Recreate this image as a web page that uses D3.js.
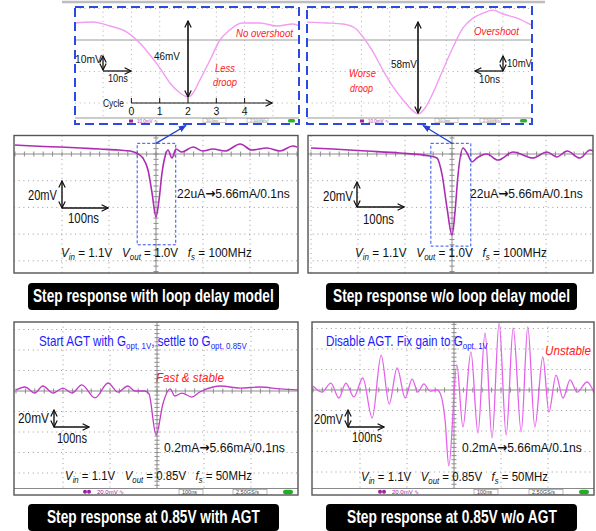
<!DOCTYPE html>
<html><head><meta charset="utf-8">
<script src="https://cdn.jsdelivr.net/npm/d3@7"></script>
<style>
body{margin:0;background:#fff;}
svg{display:block;font-family:"Liberation Sans",Arial,sans-serif;}
text{white-space:pre;}
</style></head><body>
<svg id="c" width="596" height="531"></svg>
<script>
// ---------------- DATA (time in ns, voltage deviation in mV) ----------------
const insetWithDelay = [[-40,-1.2],[-33.6,-0.6],[-27.6,-3],[-21.6,-6.7],[-17,-13.3],[-13.4,-20.6],[-9.9,-28.5],[-6.4,-37.5],[-2.8,-43.6],[0,-46],[1.8,-43.6],[4.2,-35.7],[7.8,-23.6],[11.3,-11.5],[14.8,-5.4],[19.1,-1.2],[25.4,-1.2],[31.4,-3],[37.1,-1.8],[40,-3.6]];
const insetWithoutDelay = [[-40,0],[-32.2,-0.6],[-26.5,-1.3],[-22.3,-3.8],[-19.4,-9.6],[-16.3,-17.8],[-12.4,-30.6],[-8.8,-41.4],[-5.3,-49.7],[-2.1,-56.1],[0,-58.6],[2.5,-54.8],[5.3,-45.2],[8.8,-30.6],[12.4,-15.9],[15.9,-3.8],[19.4,2.5],[23,5.7],[26.5,7.6],[30,5.1],[35,2.5],[40,-1.9]];
const stepWithDelay = [[-300,6.7],[-250,5.8],[-204,5.2],[-160,4.5],[-119,3.7],[-80,3],[-55,2.2],[-38,0],[-28,-3],[-17,-12],[-8.5,-29],[0,-47.2],[6.4,-34.5],[12.8,-14.2],[19,-2.2],[25.5,3],[34,-3],[42.5,3.7],[55,1.5],[79,5.2],[100,2.2],[121,3.7],[147,2.2],[179,7.5],[204,3],[236,4.5],[264,2.2],[291,6],[300,5.2]];
const stepWithoutDelay = [[-300,4.5],[-253,3.7],[-181,2.2],[-111,0.7],[-47,-1.5],[-32,-3],[-21,-15.7],[-10.6,-40.4],[0,-60.7],[6.4,-43.4],[12.8,-15.7],[23.4,4.5],[32,0.7],[42.5,-6],[53,-3],[74,0],[98,-4.5],[130,1.5],[172,-3],[202,1.5],[223,-2.2],[245,2.2],[272,-3],[294,3],[300,2.2]];
const stepAGT = [[-300,1],[-281,3.9],[-260,-2],[-243,4.9],[-221,-2],[-200,2.9],[-181,-2],[-160,5.9],[-132,-6.8],[-104,7.8],[-83,-1],[-62,4.9],[-47,0],[-26,0],[-17,-2.9],[-2,-42.9],[13,-11.7],[28,2],[38,-4.9],[53,-2],[74,-5.9],[91,-1],[119,3.9],[134,4.9],[177,2.9],[219,3.9],[262,2],[300,1]];
const stepNoAGT = [[-300,3.9],[-281,-2],[-262,6.8],[-245,-7.8],[-230,6.8],[-213,-6.8],[-194,11.7],[-174,-27.3],[-155,34.1],[-138,-13.7],[-121,21.5],[-104,-7.8],[-89,10.7],[-77,-2],[-64,5.9],[-51,-1],[-36,0],[-28,-4.9],[-19,-29.3],[-11,-74.1],[6,24.4],[19,-36.1],[36,37.1],[51,-42],[66,55.6],[81,-46.8],[96,65.4],[111,-43.9],[126,60.5],[143,-41],[157,61.5],[172,-36.1],[189,32.2],[202,-21.5],[217,14.6],[232,-7.8],[247,9.8],[262,-2],[283,7.8],[300,-4.9]];
const cycleTicks = [0,1,2,3,4];
const droops = [46,58];
const panelTitles = ["Step response with loop delay model","Step response w/o loop delay model","Step response at 0.85V with AGT","Step response at 0.85V w/o AGT"];
const loadSteps = ["22uA\u21925.66mA/0.1ns","22uA\u21925.66mA/0.1ns","0.2mA\u21925.66mA/0.1ns","0.2mA\u21925.66mA/0.1ns"];
const vinLabels = ["1.1V","1.1V","1.1V","1.1V"];
const voutLabels = ["1.0V","1.0V","0.85V","0.85V"];
const fsLabels = ["100MHz","100MHz","50MHz","50MHz"];
const statusLabels = ["20.0mV \u223f","100ns","2.50GS/s"];

// ---------------- SETUP ----------------
const svg = d3.select('#c');
const defs = svg.append('defs');
function marker(id, color, filled){
  defs.append('marker').attr('id',id).attr('viewBox','0 0 10 10').attr('refX',9).attr('refY',5)
    .attr('markerWidth',8).attr('markerHeight',8).attr('markerUnits','userSpaceOnUse')
    .attr('orient','auto-start-reverse')
    .append('path').attr('d', filled?'M0,1L10,5L0,9z':'M1,1L9,5L1,9')
    .attr('fill',filled?color:'none').attr('stroke',filled?'none':color).attr('stroke-width',1.5);
}
marker('ak','#111',false);
marker('ab','#2040d8',true);

// text with italic / subscript parts, horizontally scaled to a target width
function rich(g, parts, x, y, fs, color, targetW, anchor){
  const t = g.append('text').attr('x',0).attr('y',0).attr('font-size',fs).attr('fill',color)
    .attr('text-anchor',anchor||'start');
  let shifted=false;
  parts.forEach(p=>{
    const [s, st] = typeof p==='string'?[p,'n']:p;
    const sp = t.append('tspan').text(s);
    const sub = st==='s'||st==='S';
    if (st==='i'||st==='s') sp.attr('font-style','italic');
    if (st==='a') sp.attr('font-family','DejaVu Sans').attr('font-weight','bold');
    if (sub){ sp.attr('font-size', fs*0.68); if(!shifted){ sp.attr('dy', fs*0.22); shifted=true; } }
    else if (shifted){ sp.attr('dy', -fs*0.22); shifted=false; }
  });
  let k = 1;
  if (targetW){ k = targetW/t.node().getComputedTextLength(); k = Math.max(0.6, Math.min(1.35,k)); }
  t.attr('transform',`translate(${x},${y}) scale(${k},1)`);
  return t;
}
function arrow(g, x1,y1,x2,y2, both, color, w){
  const l = g.append('line').attr('x1',x1).attr('y1',y1).attr('x2',x2).attr('y2',y2)
    .attr('stroke',color||'#111').attr('stroke-width',w||1.4).attr('marker-end','url(#ak)');
  if (both) l.attr('marker-start','url(#ak)');
  return l;
}
const line = (xs,ys)=>d3.line().x(d=>xs(d[0])).y(d=>ys(d[1])).curve(d3.curveMonotoneX);

// ---------------- OSCILLOSCOPE SCREENS ----------------
const screens = [
  {x0:14,x1:298,y0:135.5,y1:273,cx:156,cy:154,dx:47,dy:26.7,data:stepWithDelay,color:'#ac2cb4',status:false},
  {x0:308,x1:593,y0:135.5,y1:273,cx:452,cy:154,dx:47,dy:26.7,data:stepWithoutDelay,color:'#ac2cb4',status:false},
  {x0:14,x1:298,y0:322,y1:495,cx:157,cy:391,dx:47,dy:20.5,data:stepAGT,color:'#c23cc8',status:true},
  {x0:312,x1:594,y0:322,y1:495,cx:454,cy:390,dx:47,dy:20.5,data:stepNoAGT,color:'#e462ea',status:true}
];
screens.forEach((s,i)=>{
  const g = svg.append('g');
  s.x = d3.scaleLinear().domain([0,100]).range([s.cx,s.cx+s.dx]);
  s.y = d3.scaleLinear().domain([0,20]).range([s.cy,s.cy-s.dy]);
  const gb = s.status ? s.y1-6.5 : s.y1;
  g.append('rect').attr('x',s.x0).attr('y',s.y0).attr('width',s.x1-s.x0).attr('height',s.y1-s.y0).attr('fill','#fff');
  d3.range(-6,7).forEach(k=>{
    const xv = s.x(k*100);
    if (xv>s.x0+2 && xv<s.x1-2 && k!==0)
      g.append('line').attr('x1',xv).attr('x2',xv).attr('y1',s.y0).attr('y2',gb)
        .attr('stroke','#9a9a9a').attr('stroke-width',1).attr('stroke-dasharray','1,3.7');
    const yv = s.y(k*20);
    if (yv>s.y0+2 && yv<gb-2 && k!==0)
      g.append('line').attr('x1',s.x0).attr('x2',s.x1).attr('y1',yv).attr('y2',yv)
        .attr('stroke','#9a9a9a').attr('stroke-width',1).attr('stroke-dasharray','1,3.7');
  });
  g.append('line').attr('x1',s.x0).attr('x2',s.x1).attr('y1',s.cy).attr('y2',s.cy).attr('stroke','#8c8c8c').attr('stroke-width',1);
  g.append('line').attr('x1',s.cx).attr('x2',s.cx).attr('y1',s.y0).attr('y2',gb).attr('stroke','#8c8c8c').attr('stroke-width',1);
  d3.range(-30,31).forEach(k=>{
    const xv = s.x(k*20);
    if (xv>s.x0 && xv<s.x1) g.append('line').attr('x1',xv).attr('x2',xv).attr('y1',s.cy-2.5).attr('y2',s.cy+2.5).attr('stroke','#8c8c8c');
    const yv = s.y(k*4);
    if (yv>s.y0 && yv<gb) g.append('line').attr('x1',s.cx-2.5).attr('x2',s.cx+2.5).attr('y1',yv).attr('y2',yv).attr('stroke','#8c8c8c');
  });
  if (s.status){
    g.append('line').attr('x1',s.x0).attr('x2',s.x1).attr('y1',gb).attr('y2',gb).attr('stroke','#888').attr('stroke-width',1);
    const sy = gb+3.3;
    const ox = s.x0 + (i===2?71:68);
    g.append('circle').attr('cx',ox).attr('cy',sy).attr('r',2).attr('fill','#a020a0');
    g.append('circle').attr('cx',ox+4).attr('cy',sy).attr('r',2).attr('fill','#a020a0');
    g.append('text').attr('x',ox+12).attr('y',sy+2).attr('font-size',6).attr('fill','#a020a0').text(statusLabels[0]);
    const b1 = s.x0 + (i===2?165:162), b2 = s.x0 + (i===2?219:217);
    g.append('rect').attr('x',b1).attr('y',gb+0.8).attr('width',24).attr('height',5).attr('fill','none').attr('stroke','#888').attr('stroke-width',0.6);
    g.append('text').attr('x',b1+3).attr('y',sy+2).attr('font-size',5.5).attr('fill','#444').text(statusLabels[1]);
    g.append('rect').attr('x',b2).attr('y',gb+0.8).attr('width',34).attr('height',5).attr('fill','none').attr('stroke','#888').attr('stroke-width',0.6);
    g.append('text').attr('x',b2+3).attr('y',sy+2).attr('font-size',5.5).attr('fill','#444').text(statusLabels[2]);
    g.append('rect').attr('x',s.x1-15).attr('y',gb+1.3).attr('width',10).attr('height',4.5).attr('rx',2.2).attr('fill','#22b022');
  }
  const cid = 'clip'+i;
  defs.append('clipPath').attr('id',cid).append('rect').attr('x',s.x0).attr('y',s.y0).attr('width',s.x1-s.x0).attr('height',gb-s.y0);
  g.append('path').attr('d',line(s.x,s.y)(s.data)).attr('fill','none').attr('stroke',s.color)
    .attr('stroke-width',i<2?1.6:1.3).attr('clip-path',`url(#${cid})`);
  g.append('rect').attr('x',s.x0).attr('y',s.y0).attr('width',s.x1-s.x0).attr('height',s.y1-s.y0)
    .attr('fill','none').attr('stroke','#555').attr('stroke-width',1.4);
});

// ---------------- ZOOM WINDOWS & CONNECTORS ----------------
const zoomWins = [{t:[-40,42],v:[8,-68],to:[186,125.5]},{t:[-45,40],v:[8,-69],to:[423,125.5]}];
zoomWins.forEach((z,i)=>{
  const s = screens[i];
  svg.append('rect').attr('x',s.x(z.t[0])).attr('y',s.y(z.v[0])).attr('width',s.x(z.t[1])-s.x(z.t[0]))
    .attr('height',s.y(z.v[1])-s.y(z.v[0])).attr('fill','none').attr('stroke','#3050f0').attr('stroke-width',1).attr('stroke-dasharray','3,2');
  svg.append('line').attr('x1',s.x(0)).attr('y1',s.y(z.v[0])).attr('x2',z.to[0]).attr('y2',z.to[1])
    .attr('stroke','#2040d8').attr('stroke-width',1.3).attr('marker-end','url(#ab)');
});

// ---------------- INSETS ----------------
svg.append('line').attr('x1',62).attr('x2',545).attr('y1',2).attr('y2',2).attr('stroke','#bdbdbd').attr('stroke-width',2.5);
const insets = [
  {x0:75,x1:299,y0:7,y1:124,cx:188,cy:21,data:insetWithDelay,droop:droops[0]},
  {x0:307,x1:532,y0:7,y1:124,cx:418,cy:22,data:insetWithoutDelay,droop:droops[1]}
];
const insetRows = [8.5,71.5,103];
insets.forEach((n,i)=>{
  const g = svg.append('g');
  n.x = d3.scaleLinear().domain([0,10]).range([n.cx,n.cx+28.3]);
  n.y = d3.scaleLinear().domain([0,-n.droop]).range([n.cy, i===0?97:113]);
  g.append('rect').attr('x',n.x0).attr('y',n.y0).attr('width',n.x1-n.x0).attr('height',n.y1-n.y0).attr('fill','#fff');
  d3.range(-5,6).forEach(k=>{
    const xv=n.x(k*10);
    if (xv>n.x0+2 && xv<n.x1-2 && k!==0)
      g.append('line').attr('x1',xv).attr('x2',xv).attr('y1',n.y0).attr('y2',118).attr('stroke','#b0b0b0').attr('stroke-dasharray','1,3.7');
  });
  insetRows.forEach(r=>g.append('line').attr('x1',n.x0).attr('x2',n.x1).attr('y1',r).attr('y2',r).attr('stroke','#b0b0b0').attr('stroke-dasharray','1,3.7'));
  g.append('line').attr('x1',n.x0).attr('x2',n.x1).attr('y1',40).attr('y2',40).attr('stroke','#9c9c9c').attr('stroke-width',1);
  g.append('line').attr('x1',n.x0).attr('x2',n.x1).attr('y1',118).attr('y2',118).attr('stroke','#999').attr('stroke-width',1);
  const px = i===0?129:360;
  g.append('rect').attr('x',px).attr('y',119.5).attr('width',4).attr('height',3).attr('fill','#a020a0');
  g.append('text').attr('x',px+8).attr('y',123).attr('font-size',4.5).attr('fill','#b040b0').text('10.0mV \u223f');
  const bx = i===0?[203,247]:[435,480];
  bx.forEach((b,j)=>{
    g.append('rect').attr('x',b).attr('y',118.5).attr('width',j?21:23).attr('height',4).attr('fill','none').attr('stroke','#999').attr('stroke-width',0.5);
    g.append('text').attr('x',b+3).attr('y',122.3).attr('font-size',4).attr('fill','#777').text(j?'2.50GS/s':'10.0ns');
  });
  g.append('rect').attr('x',i===0?288:520).attr('y',119).attr('width',7).attr('height',3.5).attr('rx',1.5).attr('fill','#30b030');
  const cid='iclip'+i;
  defs.append('clipPath').attr('id',cid).append('rect').attr('x',n.x0).attr('y',n.y0).attr('width',n.x1-n.x0).attr('height',118-n.y0);
  g.append('path').attr('d',line(n.x,n.y)(n.data)).attr('fill','none').attr('stroke','#f29cf2').attr('stroke-width',1.4).attr('clip-path',`url(#${cid})`);
  arrow(g, n.x(0), n.y(0), n.x(0), n.y(-n.droop), true, '#111', 1.6);
  g.append('rect').attr('x',n.x0).attr('y',n.y0).attr('width',n.x1-n.x0).attr('height',n.y1-n.y0)
    .attr('fill','none').attr('stroke','#2a4be0').attr('stroke-width',2).attr('stroke-dasharray','9,5');
});
{
  const n = insets[0], g = svg.append('g');
  const cx = c=>n.x((c-2)*10);
  arrow(g, cx(0), 103, 272, 103, false, '#111', 1.1);
  cycleTicks.forEach(c=>{
    g.append('line').attr('x1',cx(c)).attr('x2',cx(c)).attr('y1',103).attr('y2',98).attr('stroke','#111').attr('stroke-width',1);
    g.append('text').attr('x',cx(c)).attr('y',115).attr('font-size',10.5).attr('text-anchor','middle').attr('fill','#111').text(c);
  });
  rich(g,['Cycle'],103,107,11.5,'#111',21);
}
{
  const g = svg.append('g');
  rich(g,[droops[0]+'mV'],154,60,11,'#111',26);
  rich(g,[['No overshoot','i']],236,37,11,'#ff2020',57);
  rich(g,[['Less','i']],225,72,11.5,'#ff2020',20,'middle');
  rich(g,[['droop','i']],225,86,11.5,'#ff2020',24,'middle');
  rich(g,['10mV'],75,63,11,'#111',27);
  rich(g,['10ns'],108,82,11,'#111',20);
  arrow(g,103,70,103,56,true,'#111',1.3);
  arrow(g,103,71,131,71,false,'#111',1.3);

  rich(g,[droops[1]+'mV'],391,68,11,'#111',26);
  rich(g,[['Overshoot','i']],474,35,11,'#ff2020',45);
  rich(g,[['Worse','i']],349,77,11.5,'#ff2020',27);
  rich(g,[['droop','i']],350,92,11.5,'#ff2020',23);
  rich(g,['10mV'],507,67,11,'#111',25);
  rich(g,['10ns'],479,83,11,'#111',21);
  arrow(g,503,71,503,56,true,'#111',1.3);
  arrow(g,503,71,475,71,false,'#111',1.3);
}

// ---------------- SCREEN ANNOTATIONS ----------------
const ann = [
  {mv:[28,200,29],ns:[68,223,31],org:[62,208,181,108],load:[177,198,113],cond:[61,257,191]},
  {mv:[323,201,30],ns:[363,224,31],org:[357,207,182,404],load:[470,198,113],cond:[355,257,192]},
  {mv:[18,423,31],ns:[57,443,30],org:[54,427,410,89],load:[164,452,121],cond:[65,480,187]},
  {mv:[314,424,29],ns:[352,442,30],org:[348,427,410,384],load:[462,452,120],cond:[361,481,187]}
];
ann.forEach((a,i)=>{
  const g = svg.append('g');
  rich(g,['20mV'],a.mv[0],a.mv[1],14,'#111',a.mv[2]);
  rich(g,['100ns'],a.ns[0],a.ns[1],14,'#111',a.ns[2]);
  arrow(g,a.org[0],a.org[1],a.org[0],a.org[2],true,'#111',1.4);
  arrow(g,a.org[0],a.org[1],a.org[3],a.org[1],false,'#111',1.4);
  const ls = loadSteps[i].split('\u2192');
  rich(g,[ls[0],['\u2192','a'],ls[1]],a.load[0],a.load[1],13.5,'#111',a.load[2]);
  rich(g,[['V','i'],['in','s'],' = '+vinLabels[i]+'   ',['V','i'],['out','s'],' = '+voutLabels[i]+'   ',['f','i'],['s','s'],' = '+fsLabels[i]],
    a.cond[0],a.cond[1],13.5,'#111',a.cond[2]);
});
{
  const g = svg.append('g');
  rich(g,['Start AGT with G',['opt, 1V','S'],', settle to G',['opt, 0.85V','S']],39,346,14,'#1c1cff',208);
  rich(g,[['Fast & stable','i']],156,382,13.5,'#ff2020',68);
  rich(g,['Disable AGT. Fix gain to G',['opt, 1V','S']],326,346,14,'#1c1cff',162);
  rich(g,[['Unstable','i']],545,355,13,'#ff2020',46);
}

// ---------------- TITLES ----------------
const titleBoxes = [[28,279,283,310,33,274,302],[326,577,283,310,333,570,302],[28,279,504,531,47,260,523],[326,577,504,531,347,557,523]];
titleBoxes.forEach((b,i)=>{
  svg.append('rect').attr('x',b[0]).attr('y',b[2]).attr('width',b[1]-b[0]).attr('height',b[3]-b[2]).attr('rx',4).attr('fill','#000');
  const t = svg.append('text').attr('font-size',18).attr('font-weight','bold').attr('fill','#fff').text(panelTitles[i]);
  const w = t.node().getComputedTextLength();
  t.attr('transform',`translate(${b[4]},${b[6]}) scale(${(b[5]-b[4])/w},1)`);
});
</script></body></html>
